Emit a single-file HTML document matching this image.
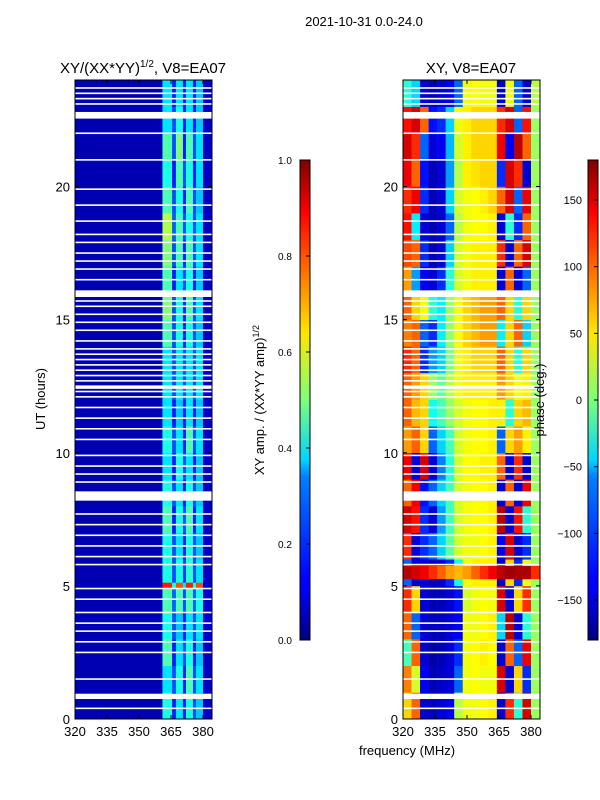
<!DOCTYPE html>
<html><head><meta charset="utf-8"><style>
body{margin:0;background:#fff;}
svg{display:block;font-family:"Liberation Sans",sans-serif;}
</style></head><body>
<svg id="fig" width="600" height="800" viewBox="0 0 600 800">
<defs>
<linearGradient id="jet" x1="0" y1="1" x2="0" y2="0">
<stop offset="0" stop-color="#00007f"/><stop offset="0.11" stop-color="#0000ff"/><stop offset="0.125" stop-color="#0000ff"/>
<stop offset="0.34" stop-color="#0080ff"/><stop offset="0.375" stop-color="#00d4ff"/><stop offset="0.5" stop-color="#7dff7a"/>
<stop offset="0.64" stop-color="#ffe600"/><stop offset="0.89" stop-color="#ff0000"/><stop offset="1" stop-color="#7f0000"/>
</linearGradient>
</defs>
<text x="364" y="26" font-size="13" text-anchor="middle">2021-10-31 0.0-24.0</text>
<text x="143" y="73" font-size="15" text-anchor="middle">XY/(XX*YY)<tspan font-size="10" dy="-6">1/2</tspan><tspan dy="6">, V8=EA07</tspan></text>
<text x="471" y="73" font-size="15" text-anchor="middle">XY, V8=EA07</text>
<g id="left"></g>
<g id="right"></g>
<g id="axes"></g>
<text x="45" y="399" font-size="13" text-anchor="middle" transform="rotate(-90 45 399)">UT (hours)</text>
<text x="407" y="755" font-size="13" text-anchor="middle">frequency (MHz)</text>
<text x="264" y="400" font-size="13" text-anchor="middle" transform="rotate(-90 264 400)">XY amp. / (XX*YY amp)<tspan font-size="9" dy="-5">1/2</tspan></text>
<text x="544" y="400" font-size="13" text-anchor="middle" transform="rotate(-90 544 400)">phase (deg.)</text>
<rect x="300" y="160" width="10" height="480" fill="url(#jet)" stroke="#000"/>
<rect x="588" y="160" width="10" height="480" fill="url(#jet)" stroke="#000"/>
<g id="cb"></g>
</svg>
<script>
// ---- data ----
const xTicks=[320,335,350,365,380];
const yTicks=[0,5,10,15,20];
const ampTicks=[0.0,0.2,0.4,0.6,0.8,1.0];
const phaseTicks=[-150,-100,-50,0,50,100,150];
const ampBands=[320,361,365.5,367.3,370.6,372,375.3,376.7,380,384];
const ampRows=[
[0.05,0.40,0.15,0.35,0.15,0.40,0.2,0.32,0.08],
[0.05,0.35,0.20,0.40,0.15,0.45,0.2,0.35,0.07],
[0.05,0.45,0.15,0.35,0.20,0.40,0.15,0.32,0.07],
[0.05,0.40,0.20,0.32,0.15,0.35,0.2,0.35,0.08],
[0.05,0.45,0.22,0.45,0.20,0.45,0.22,0.40,0.08],
[0.05,0.40,0.20,0.40,0.18,0.42,0.20,0.35,0.07],
[0.05,0.40,0.20,0.35,0.15,0.40,0.2,0.32,0.07],
[0.05,0.45,0.15,0.40,0.20,0.45,0.15,0.35,0.07],
[0.05,0.40,0.20,0.35,0.15,0.40,0.2,0.32,0.07],
[0.05,0.35,0.15,0.40,0.20,0.35,0.15,0.32,0.07],
[0.05,0.40,0.20,0.35,0.15,0.45,0.2,0.35,0.07],
[0.05,0.35,0.15,0.32,0.15,0.35,0.15,0.32,0.07],
[0.05,0.35,0.20,0.35,0.20,0.35,0.2,0.35,0.07],
[0.05,0.35,0.20,0.35,0.20,0.35,0.2,0.35,0.07],
[0.05,0.45,0.20,0.40,0.15,0.40,0.2,0.32,0.07],
[0.05,0.50,0.20,0.40,0.15,0.45,0.2,0.35,0.07],
[0.05,0.45,0.15,0.35,0.20,0.40,0.15,0.32,0.07],
[0.05,0.50,0.20,0.45,0.15,0.45,0.2,0.35,0.07],
[0.05,0.55,0.22,0.45,0.20,0.40,0.2,0.35,0.07],
[0.05,0.45,0.20,0.40,0.15,0.45,0.2,0.32,0.07],
[0.05,0.40,0.15,0.45,0.20,0.40,0.15,0.35,0.07],
[0.05,0.45,0.20,0.50,0.15,0.45,0.2,0.35,0.07],
[0.05,0.35,0.20,0.40,0.15,0.35,0.15,0.32,0.07],
[0.05,0.35,0.15,0.35,0.15,0.35,0.15,0.32,0.07]];
const ampBandStart=4.9, ampBandEnd=5.12;
const ampBandValues=[0.06,0.85,0.4,0.8,0.35,0.85,0.4,0.8,0.08];
const phaseBins=[320,324,328,332,336,340,344,348,352,356,360,364,368,372,376,380,384];
const phaseRows=[
[60,100,-150,-160,-150,-140,20,40,40,45,50,-150,120,-30,150,10],
[90,30,-140,-160,-155,-150,-100,40,45,40,40,150,-150,60,-120,10],
[-20,100,-150,-165,-160,-150,-120,40,45,50,45,-150,100,-100,140,10],
[100,-100,-150,-160,-160,-150,-140,40,40,45,50,-60,160,-150,-30,10],
[120,60,-150,-160,-160,-150,-130,30,40,45,40,150,-150,60,120,10],
[-100,-150,-150,-160,-150,-120,-40,40,50,50,50,-150,60,-120,40,10],
[120,-150,-120,-100,-60,-10,30,40,40,45,50,-140,150,-150,-120,10],
[150,130,-120,-150,-80,-20,30,40,45,45,50,160,-150,130,-30,10],
[100,140,-130,-100,-60,-20,30,40,45,45,50,-150,100,-150,140,10],
[140,-150,150,-150,-90,-30,30,45,45,50,50,100,-150,120,-150,10],
[80,100,60,-100,-60,-20,30,40,45,45,50,-100,60,80,50,10],
[100,70,60,-40,-20,10,30,40,45,45,50,50,-30,60,70,10],
[100,80,60,10,-10,20,40,50,50,50,50,80,60,40,50,10],
[120,100,-120,-80,-60,0,40,50,60,60,60,100,60,-30,60,10],
[90,100,-100,-120,-50,10,40,60,70,80,80,-50,60,100,-60,10],
[100,60,40,-30,-50,10,40,60,70,80,80,100,60,-30,60,10],
[80,-80,-140,-150,-120,-30,30,40,50,50,50,-150,100,-150,-100,10],
[110,100,-120,-160,-150,-60,30,40,50,50,50,120,-150,100,150,10],
[130,-50,-150,-160,-150,-100,20,40,45,45,50,-150,-30,-120,100,10],
[120,140,-120,-160,-150,-60,30,40,45,50,60,100,150,-100,140,10],
[140,100,-130,-160,-150,-80,20,50,55,60,60,-120,150,120,-150,10],
[150,120,-100,-150,-140,-70,30,50,60,60,60,140,-140,160,100,10],
[130,150,100,-130,-120,-60,40,50,60,60,60,120,150,-100,130,10],
[-30,-60,-150,-160,-150,-140,-100,40,45,40,40,-150,40,-100,-150,20]];
const phaseBandStart=5.25, phaseBandEnd=5.75;
const phaseBandValues=[160,150,140,120,100,80,70,80,100,120,140,160,170,165,165,120];
const thinGaps=[23.7,23.5,23.3,23.1,22.0,21.0,19.9,19.3,18.7,18.2,17.9,17.5,17.2,16.9,16.5,15.7,15.5,15.2,14.9,14.6,14.2,13.9,13.7,13.5,13.3,13.1,12.9,12.7,12.5,12.3,12.1,11.7,11.3,10.9,10.5,9.9,9.5,9.2,8.9,7.7,7.3,6.9,6.5,6.1,5.8,4.9,4.5,4.0,3.6,3.3,2.9,2.5,1.5,0.4];
const thickGapStart=[0.75,8.2,15.85,22.55,12.4];
const thickGapEnd=[0.95,8.55,16.1,22.8,12.5];
// ---- scales ----
const NS="http://www.w3.org/2000/svg";
const Y0=719,Y1=80;
const yS=ut=>Y0-(ut/24)*(Y0-Y1);
const xL=f=>75+(f-320)*(128/60);
const xR=f=>403+(f-320)*(128/60);
function jet(v){v=Math.max(0,Math.min(1,v));const c=t=>Math.round(255*Math.max(0,Math.min(1,1.5-Math.abs(t))));return `rgb(${c(4*v-3)},${c(4*v-2)},${c(4*v-1)})`;}
function mk(tag,attrs,parent){const e=document.createElementNS(NS,tag);for(const k in attrs)e.setAttribute(k,attrs[k]);parent.appendChild(e);return e;}
const L=document.getElementById('left'),R=document.getElementById('right'),A=document.getElementById('axes'),CB=document.getElementById('cb');
ampRows.forEach((row,h)=>{row.forEach((v,i)=>{
 const r=mk('rect',{x:xL(ampBands[i]),y:yS(h+1),width:xL(ampBands[i+1])-xL(ampBands[i])+0.3,height:yS(h)-yS(h+1)+0.3,fill:jet(v)},L);
 
 
});});
ampBandValues.forEach((v,i)=>{
 const r=mk('rect',{x:xL(ampBands[i]),y:yS(ampBandEnd),width:xL(ampBands[i+1])-xL(ampBands[i])+0.3,height:yS(ampBandStart)-yS(ampBandEnd),fill:jet(v)},L);
 
 
});
phaseRows.forEach((row,h)=>{row.forEach((v,i)=>{
 const r=mk('rect',{x:xR(phaseBins[i]),y:yS(h+1),width:xR(phaseBins[i+1])-xR(phaseBins[i])+0.3,height:yS(h)-yS(h+1)+0.3,fill:jet((v+180)/360)},R);
 
 
});});
phaseBandValues.forEach((v,i)=>{
 const r=mk('rect',{x:xR(phaseBins[i]),y:yS(phaseBandEnd),width:xR(phaseBins[i+1])-xR(phaseBins[i])+0.3,height:yS(phaseBandStart)-yS(phaseBandEnd),fill:jet((v+180)/360)},R);
 
 
});
[[L,xL],[R,xR]].forEach(([g,xs])=>{
 thinGaps.forEach(u=>{const r=mk('rect',{x:xs(320),y:yS(u)-0.8,width:137,height:1.6,fill:'#fff'},g);
  
  });
 thickGapStart.forEach((s,i)=>{const r=mk('rect',{x:xs(320),y:yS(thickGapEnd[i]),width:137,height:yS(s)-yS(thickGapEnd[i]),fill:'#fff'},g);
  
  });
});
[[75,xL],[403,xR]].forEach(([x0,xs])=>{
 const f=mk('rect',{x:x0,y:80,width:137,height:639,fill:'none',stroke:'#000','stroke-width':1},A);
 
 
 xTicks.forEach(t=>{const x=xs(t);
  mk('line',{x1:x,y1:719,x2:x,y2:715,stroke:'#000'},A);mk('line',{x1:x,y1:80,x2:x,y2:84,stroke:'#000'},A);
  const tx=mk('text',{x:x,y:736,'font-size':13,'text-anchor':'middle'},A);tx.textContent=t;
  
  });
 yTicks.forEach(t=>{const y=yS(t);
  mk('line',{x1:x0,y1:y,x2:x0+4,y2:y,stroke:'#000'},A);mk('line',{x1:x0+137,y1:y,x2:x0+133,y2:y,stroke:'#000'},A);
  const tx=mk('text',{x:x0-5,y:y+5,'font-size':13,'text-anchor':'end'},A);tx.textContent=t;
  
  });
});
ampTicks.forEach(t=>{const y=640-t*480;
 mk('line',{x1:306,y1:y,x2:310,y2:y,stroke:'#000'},CB);
 const tx=mk('text',{x:278,y:y+4,'font-size':10},CB);tx.textContent=t.toFixed(1);
 
 });
phaseTicks.forEach(t=>{const y=640-(t+180)/360*480;
 mk('line',{x1:594,y1:y,x2:598,y2:y,stroke:'#000'},CB);
 const tx=mk('text',{x:582,y:y+4,'font-size':11,'text-anchor':'end'},CB);tx.textContent=t<0?'\u2212'+(-t):t;
 
 });
</script>
</body></html>
